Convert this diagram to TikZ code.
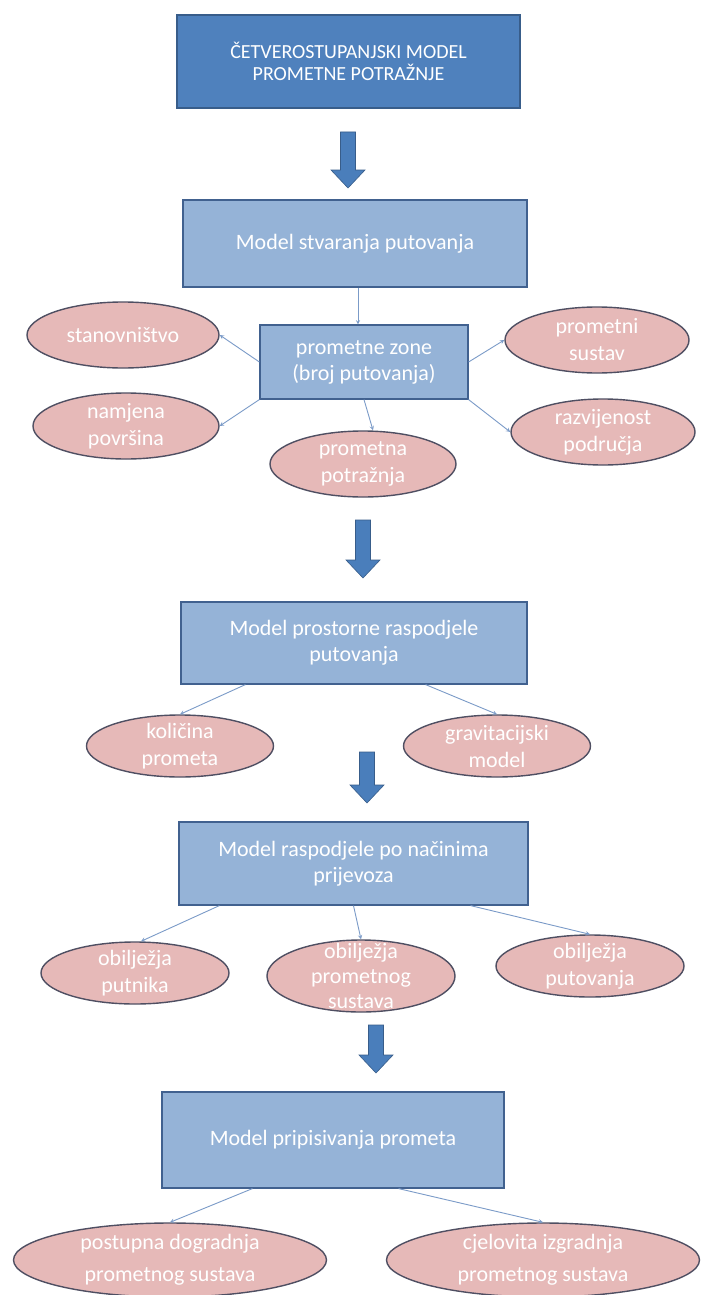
\documentclass[tikz,border=0pt]{standalone}
\usepackage{fontspec}
\setmainfont{Carlito}
\usetikzlibrary{shapes.geometric}
\definecolor{topfill}{HTML}{4F81BD}
\definecolor{topline}{HTML}{385D8A}
\definecolor{boxfill}{HTML}{95B3D7}
\definecolor{boxline}{HTML}{41618F}
\definecolor{ovalfill}{HTML}{E6B9B8}
\definecolor{ovalline}{HTML}{4F4F62}
\definecolor{linkcol}{HTML}{7B9BC8}
\definecolor{arrowfill}{HTML}{4A7EBB}

\begin{document}
\begin{tikzpicture}[x=1pt,y=-1pt,
    mainbox/.style={rectangle,draw=topline,fill=topfill,line width=1.2pt,inner sep=0pt,align=center,text=white,font=\fontsize{20}{22}\selectfont},
    modelbox/.style={rectangle,draw=boxline,fill=boxfill,line width=1.2pt,inner sep=0pt,align=center,text=white,font=\fontsize{22}{26}\selectfont},
    oval/.style={ellipse,draw=ovalline,fill=ovalfill,line width=1.4pt,inner sep=0pt},
    ovaltext/.style={text=white,align=center,font=\fontsize{22}{27}\selectfont},
    link/.style={->,>=stealth,draw=linkcol,line width=0.9pt}]

    \useasboundingbox (0,0) rectangle (701,1295);
    \clip (0,0) rectangle (701,1295);
    \fill[white] (0,0) rectangle (701,1295); % Background

    % Title box
    \node[mainbox,minimum width=343,minimum height=93] (cetiri) at (348.5,61.5) {ČETVEROSTUPANJSKI MODEL\\PROMETNE POTRAŽNJE};

    % Block arrows between the steps
    \foreach \xa/\ya/\yb in {348/132/188, 363/520/578, 367/752/803, 376/1025/1073}
        {
        \filldraw[fill=arrowfill,draw=topline,line width=0.6pt] (\xa-7.5,\ya) -- (\xa+7.5,\ya) -- (\xa+7.5,\yb-18) -- (\xa+17,\yb-18) -- (\xa,\yb) -- (\xa-17,\yb-18) -- (\xa-7.5,\yb-18) -- cycle;
        }

    % Step 1
    \node[modelbox,minimum width=344,minimum height=87] (stvaranje) at (355,243.5) {Model stvaranja putovanja};
    \node[modelbox,minimum width=208,minimum height=74] (zone) at (364,362) {prometne zone\\(broj putovanja)};
    \node[oval,minimum width=192,minimum height=66,label={[ovaltext]center:stanovništvo}] (stan) at (123,335) {};
    \node[oval,minimum width=186,minimum height=66,label={[ovaltext]center:namjena\\površina}] (namjena) at (126,426) {};
    \node[oval,minimum width=186,minimum height=66,label={[ovaltext]center:prometna\\potražnja}] (potraznja) at (363,464) {};
    \node[oval,minimum width=184,minimum height=66,label={[ovaltext]center:prometni\\sustav}] (sustav) at (597,340) {};
    \node[oval,minimum width=184,minimum height=66,label={[ovaltext]center:razvijenost\\područja}] (razvoj) at (603,432) {};

    \draw[link] ([xshift=3pt]stvaranje.south) -- ([xshift=3pt]stvaranje.south |- zone.north);
    \draw[link] (zone.west) -- (stan.east);
    \draw[link] (zone.south west) -- (namjena.east);
    \draw[link] (zone.south) -- ([xshift=10pt]potraznja.north);
    \draw[link] (zone.east) -- (sustav.west);
    \draw[link] (zone.south east) -- (razvoj.west);

    % Step 2
    \node[modelbox,minimum width=346,minimum height=82] (raspodjela) at (354,643) {Model prostorne raspodjele\\putovanja};
    \node[oval,minimum width=187,minimum height=62,label={[ovaltext]center:količina\\prometa}] (kolicina) at (180,746) {};
    \node[oval,minimum width=187,minimum height=62,label={[ovaltext]center:gravitacijski\\model}] (gravitacija) at (497,746) {};

    \draw[link] ([xshift=65pt]raspodjela.south west) -- (kolicina.north);
    \draw[link] ([xshift=-102pt]raspodjela.south east) -- (gravitacija.north);

    % Step 3
    \node[modelbox,minimum width=349,minimum height=83] (nacini) at (353.5,863.5) {Model raspodjele po načinima\\prijevoza};
    \node[oval,minimum width=188,minimum height=62,label={[ovaltext]center:obilježja\\putnika}] (putnik) at (135,973) {};
    \node[oval,minimum width=188,minimum height=72,label={[ovaltext,font=\fontsize{22}{25}\selectfont]center:obilježja\\prometnog\\sustava}] (sustavi) at (361,976) {};
    \node[oval,minimum width=188,minimum height=62,label={[ovaltext]center:obilježja\\putovanja}] (putovanje) at (590,966) {};

    \draw[link] ([xshift=41pt]nacini.south west) -- ([xshift=6pt]putnik.north);
    \draw[link] (nacini.south) -- (sustavi.north);
    \draw[link] ([xshift=-58pt]nacini.south east) -- (putovanje.north);

    % Step 4
    \node[modelbox,minimum width=342,minimum height=96] (pripis) at (333,1140) {Model pripisivanja prometa};
    \node[oval,minimum width=313,minimum height=74,label={[ovaltext,font=\fontsize{22}{32}\selectfont]center:postupna dogradnja\\prometnog sustava}] (postupna) at (170,1260) {};
    \node[oval,minimum width=313,minimum height=74,label={[ovaltext,font=\fontsize{22}{32}\selectfont]center:cjelovita izgradnja\\prometnog sustava}] (cjelovita) at (543,1260) {};

    \draw[link] ([xshift=91pt]pripis.south west) -- (postupna.north);
    \draw[link] ([xshift=-106pt]pripis.south east) -- (cjelovita.north);

\end{tikzpicture}
\end{document}
